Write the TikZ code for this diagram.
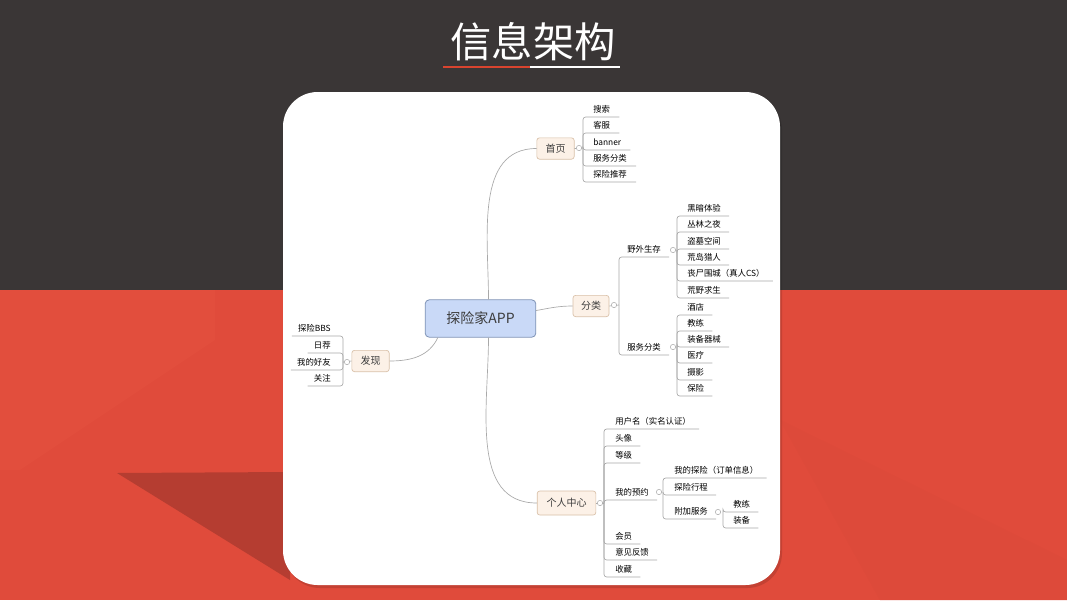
\documentclass[tikz,border=0pt]{standalone}
\usepackage{fontspec}
\setmainfont{Noto Sans CJK SC}
\usetikzlibrary{positioning, calc}
\definecolor{darkband}{HTML}{3A3636}
\definecolor{redband}{HTML}{E04B3B}
\definecolor{redfacet}{HTML}{DD4A3A}
\definecolor{redlight}{HTML}{E24E3D}
\definecolor{redshade}{HTML}{B53D31}
\definecolor{appfill}{HTML}{C9D9F7}
\definecolor{appedge}{HTML}{7F93B6}
\definecolor{topicfill}{HTML}{FCF1E7}
\definecolor{topicedge}{HTML}{D9C0A8}
\definecolor{wire}{HTML}{A9A9A9}
\definecolor{inkgray}{HTML}{3C3C3C}
\definecolor{titlered}{HTML}{D9442F}

\tikzset{
  root/.style={draw=appedge, fill=appfill, rounded corners=3pt, line width=0.6pt,
    minimum width=83pt, minimum height=28pt, font=\fontsize{10.5}{12}\selectfont, text=inkgray},
  topic/.style={draw=topicedge, fill=topicfill, rounded corners=2pt, line width=0.5pt,
    minimum height=16pt, inner xsep=3pt, font=\fontsize{7.5}{9}\selectfont, text=inkgray},
  leaf/.style={inner sep=0pt, font=\fontsize{6.3}{7}\selectfont, text=black},
  fold/.style={circle, draw=wire, fill=white, line width=0.4pt, inner sep=0pt, minimum size=4pt},
  conn/.style={draw=wire, line width=0.5pt},
  branch/.style={draw=wire, line width=0.5pt, rounded corners=2pt},
}

\begin{document}
\begin{tikzpicture}[x=0.75pt, y=-0.75pt]
  \useasboundingbox (0,0) rectangle (1067,600);
  % background
  \fill[darkband] (0,0) rectangle (1067,290);
  \fill[redband] (0,290) rectangle (1067,600);
  \fill[redlight] (0,290) -- (215,290) -- (215,340) -- (20,470) -- (0,470) -- cycle;
  \fill[redfacet] (780,420) -- (1067,560) -- (1067,600) -- (880,600) -- cycle;
  \fill[redshade] (117,473) -- (290,472) -- (290,580) -- cycle;
  % title
  \node[font=\fontsize{31}{36}\selectfont, text=white] (title) at (533,42) {信息架构};
  \draw[titlered, line width=1.5pt] (443,67) -- (530,67);
  \draw[white, line width=1.5pt] (530,67) -- (620,67);
  % card
  \fill[black, opacity=0.12, rounded corners=26pt] (285,95) rectangle (782,588);
  \fill[white, rounded corners=26pt] (283,92) rectangle (780,585);

  % topics
  \node[root] (app) at (480.5,318.5) {探险家APP};
  \node[topic, minimum width=28pt] (home) at (555.5,148.5) {首页};
  \node[topic, minimum width=27pt] (cat) at (591,306) {分类};
  \node[topic, minimum width=28pt] (find) at (370.5,361) {发现};
  \node[topic, minimum width=44pt, minimum height=18pt] (me) at (566.5,503) {个人中心};

  \draw[conn] ([xshift=6pt]app.north) to[out=90, in=180] (home.west);
  \draw[conn] ([yshift=6pt]app.east) to[out=10, in=180] (cat.west);
  \draw[conn] ([xshift=6pt]app.south) to[out=-90, in=180] (me.west);
  \draw[conn] ([xshift=-32pt]app.south) to[out=-115, in=0] (find.east);

  % trunks
  \coordinate (homeT) at (583,148);
  \coordinate (catT) at (619,305);
  \coordinate (findT) at (343,362);
  \coordinate (meT) at (604,503);
  \coordinate (wildT) at (677,250);
  \coordinate (svcT) at (677,347);
  \coordinate (bookT) at (663,492);
  \coordinate (addT) at (723,512);

  % 首页
  \foreach \t/\y [count=\i] in {搜索/117, 客服/133, banner/150, 服务分类/166, 探险推荐/182} {
    \node[leaf, anchor=base west] (home\i) at (593,\y-5) {\t};
    \draw[branch] (homeT) |- ($(home\i.base east)+(9,5)$);
  }
  \draw[conn] (home.east) -- (homeT);

  % 分类
  \foreach \t/\y [count=\i] in {野外生存/257, 服务分类/355} {
    \node[leaf, anchor=base west] (cat\i) at (627,\y-5) {\t};
    \draw[branch] (catT) |- ($(cat\i.base east)+(8,5)$);
  }
  \draw[conn] (cat.east) -- (catT);
  \foreach \t/\y [count=\i] in {黑暗体验/216, 丛林之夜/232, 盗墓空间/249, 荒岛猎人/265,
      丧尸围城（真人CS）/281, 荒野求生/298} {
    \node[leaf, anchor=base west] (wild\i) at (687,\y-5) {\t};
    \draw[branch] (wildT) |- ($(wild\i.base east)+(8,5)$);
  }
  \foreach \t/\y [count=\i] in {酒店/315, 教练/331, 装备器械/347, 医疗/363, 摄影/380, 保险/396} {
    \node[leaf, anchor=base west] (svc\i) at (687,\y-5) {\t};
    \draw[branch] (svcT) |- ($(svc\i.base east)+(8,5)$);
  }

  % 发现
  \foreach \t/\y [count=\i] in {探险BBS/336, 日荐/353, 我的好友/370, 关注/386} {
    \node[leaf, anchor=base east] (find\i) at (331,\y-5) {\t};
    \draw[branch] (findT) |- ($(find\i.base west)+(-6,5)$);
  }
  \draw[conn] (find.west) -- (findT);

  % 个人中心
  \foreach \t/\y [count=\i] in {用户名（实名认证）/429, 头像/446, 等级/463, 我的预约/500,
      会员/544, 意见反馈/560, 收藏/577} {
    \node[leaf, anchor=base west] (me\i) at (615,\y-5) {\t};
    \draw[branch] (meT) |- ($(me\i.base east)+(8,5)$);
  }
  \draw[conn] (me.east) -- (meT);
  \foreach \t/\y [count=\i] in {我的探险（订单信息）/478, 探险行程/495, 附加服务/519} {
    \node[leaf, anchor=base west] (book\i) at (674,\y-5) {\t};
    \draw[branch] (bookT) |- ($(book\i.base east)+(8,5)$);
  }
  \foreach \t/\y [count=\i] in {教练/512, 装备/528} {
    \node[leaf, anchor=base west] (add\i) at (733,\y-5) {\t};
    \draw[branch] (addT) |- ($(add\i.base east)+(8,5)$);
  }

  % fold marks
  \node[fold] (homeF) at (579,148) {};
  \node[fold] (catF) at (614,305) {};
  \node[fold] (findF) at (347,362) {};
  \node[fold] (meF) at (600,503) {};
  \node[fold] (wildF) at (673,250) {};
  \node[fold] (svcF) at (673,347) {};
  \node[fold] (bookF) at (659,492) {};
  \node[fold] (addF) at (718,512) {};
\end{tikzpicture}
\end{document}
